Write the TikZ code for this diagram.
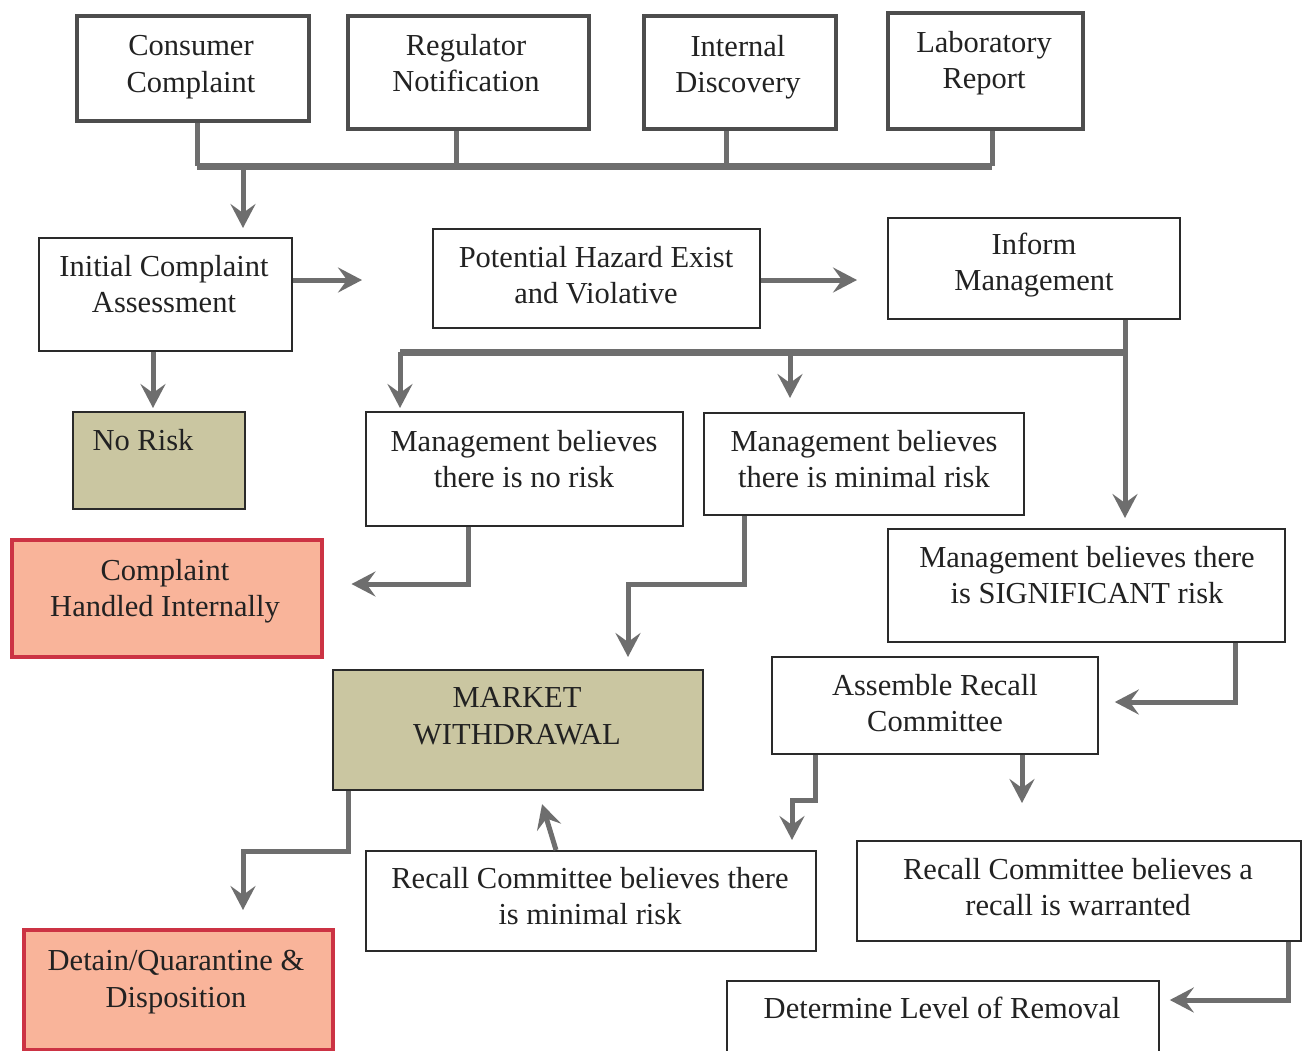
\documentclass[tikz,border=0pt]{standalone}
\usepackage{fontspec}
\setmainfont{Liberation Serif}
\usetikzlibrary{arrows.meta}
\definecolor{bordc}{HTML}{2A2A2A}
\definecolor{topbordc}{HTML}{4D4D4D}
\definecolor{connc}{HTML}{6E6E6E}
\definecolor{khakifill}{HTML}{CAC6A1}
\definecolor{salmonfill}{HTML}{F9B49A}
\definecolor{redbord}{HTML}{CC3344}
\definecolor{textc}{HTML}{222222}
\tikzset{
  boxbase/.style={anchor=north west, inner sep=0pt, fill=white},
  thinbox/.style={boxbase, draw=bordc, line width=1.8pt},
  topbox/.style={boxbase, draw=topbordc, line width=4pt},
  khakibox/.style={boxbase, draw=bordc, line width=1.8pt, fill=khakifill},
  salmonbox/.style={boxbase, draw=redbord, line width=3.5pt, fill=salmonfill},
  txt/.style={align=center, inner sep=0pt, text=textc, font=\fontsize{30.5}{36.5}\selectfont},
  conn/.style={draw=connc, line width=5pt, line join=miter},
  busline/.style={draw=connc, line width=7pt, line join=miter},
  arr/.style={conn, -{Stealth[length=24pt,width=25pt,inset=9pt]}},
}
\newcommand{\bx}[6]{\node[#6, minimum width=#4pt, minimum height=#5pt] (#1) at (#2,#3) {};}
\begin{document}
\begin{tikzpicture}[x=1pt,y=-1pt]
\useasboundingbox (0,0) rectangle (1307,1050);
\fill[white] (0,0) rectangle (1307,1050);

% boxes
\bx{cc}{75}{14}{232}{105}{topbox}
\bx{rn}{346}{14}{241}{113}{topbox}
\bx{id}{642}{14}{192}{113}{topbox}
\bx{lr}{886}{11}{195}{116}{topbox}
\bx{ica}{38}{237}{253}{113}{thinbox}
\bx{ph}{432}{228}{327}{99}{thinbox}
\bx{im}{887}{217}{292}{101}{thinbox}
\bx{nr}{72}{411}{172}{97}{khakibox}
\bx{mnr}{365}{411}{317}{114}{thinbox}
\bx{mmr}{703}{412}{320}{102}{thinbox}
\bx{msr}{887}{528}{397}{113}{thinbox}
\bx{chi}{10}{538}{310}{117}{salmonbox}
\bx{mw}{332}{669}{370}{120}{khakibox}
\bx{arc}{771}{656}{326}{97}{thinbox}
\bx{rcm}{365}{850}{450}{100}{thinbox}
\bx{rcw}{856}{840}{444}{100}{thinbox}
\bx{dlr}{726}{980}{432}{90}{thinbox}
\bx{dq}{22}{928}{309}{120}{salmonbox}

% texts
\node[txt] (cc-t) at (191,67) {Consumer\\Complaint};
\node[txt] (rn-t) at (466,63) {Regulator\\Notification};
\node[txt] (id-t) at (738,67) {Internal\\Discovery};
\node[txt] (lr-t) at (984,63) {Laboratory\\Report};
\node[txt] (ica-t) at (164,284) {Initial Complaint\\Assessment};
\node[txt] (ph-t) at (596,275) {Potential Hazard Exist\\and Violative};
\node[txt] (im-t) at (1034,265) {Inform\\Management};
\node[txt] (nr-t) at (143,440) {No Risk};
\node[txt] (mnr-t) at (524,459) {Management believes\\there is no risk};
\node[txt] (mmr-t) at (864,459) {Management believes\\there is minimal risk};
\node[txt] (msr-t) at (1087,575) {Management believes there\\is SIGNIFICANT risk};
\node[txt] (chi-t) at (165,591) {Complaint\\Handled Internally};
\node[txt] (mw-t) at (517,716) {MARKET\\WITHDRAWAL};
\node[txt] (arc-t) at (935,703) {Assemble Recall\\Committee};
\node[txt] (rcm-t) at (590,896) {Recall Committee believes there\\is minimal risk};
\node[txt] (rcw-t) at (1078,887) {Recall Committee believes a\\recall is warranted};
\node[txt] (dlr-t) at (942,1008) {Determine Level of Removal};
\node[txt] (dq-t) at (176,982) {Detain/Quarantine \&\\Disposition};

% top bus
\coordinate (bl) at (197,166);
\coordinate (br) at (992,166);
\coordinate (b2) at (456,166);
\coordinate (b3) at (726,166);
\coordinate (ba) at (243,166);
\draw[conn] (rn.south -| b2) -- (b2);
\draw[conn] (id.south -| b3) -- (b3);
\draw[conn] (cc.south -| bl) -- (bl);
\draw[conn] (lr.south -| br) -- (br);
\draw[busline] (bl) -- (br);
\draw[arr, shorten >=9pt] (ba) -- (ica.north -| ba);

% second row
\draw[arr, shorten >=70pt] (ica.east |- 0,280) -- (ph.west |- 0,280);
\draw[arr, shorten >=30pt] (ph.east |- 0,280) -- (im.west |- 0,280);
\draw[arr, shorten >=3pt] (ica.south -| 153,0) -- (nr.north -| 153,0);

% management bus
\coordinate (cr) at (1125,352);
\coordinate (cl) at (400,352);
\coordinate (cm) at (790,352);
\draw[arr, shorten >=10pt] (im.south -| cr) -- (msr.north -| cr);
\draw[busline] (cr) -- (cl);
\draw[arr, shorten >=3pt] (cl) -- (mnr.north -| cl);
\draw[arr, shorten >=14pt] (cm) -- (mmr.north -| cm);

% elbows
\draw[arr, shorten >=28pt] (mnr.south -| 468,0) |- (chi.east |- 0,584);
\draw[arr, shorten >=12pt] (mmr.south -| 744,0) -- (744,584) -- (628,584) -- (mw.north -| 628,0);
\draw[arr, shorten >=16pt] (msr.south -| 1235,0) |- (arc.east |- 0,702);
\draw[arr, shorten >=37pt] (arc.south -| 1022,0) -- (rcw.north -| 1022,0);
\draw[arr, shorten >=10pt] (arc.south -| 815,0) -- (815,800) -- (792,800) -- (rcm.north -| 792,0);
\draw[arr, shorten >=14pt] (rcm.north -| 556,0) -- (mw.south -| 538,0);
\draw[arr, shorten >=10pt] (rcw.south -| 1288,0) |- (dlr.east |- 0,1000);
\draw[arr, shorten >=18pt] (mw.south -| 348,0) -- (348,851) -- (243,851) -- (dq.north -| 243,0);
\end{tikzpicture}
\end{document}
